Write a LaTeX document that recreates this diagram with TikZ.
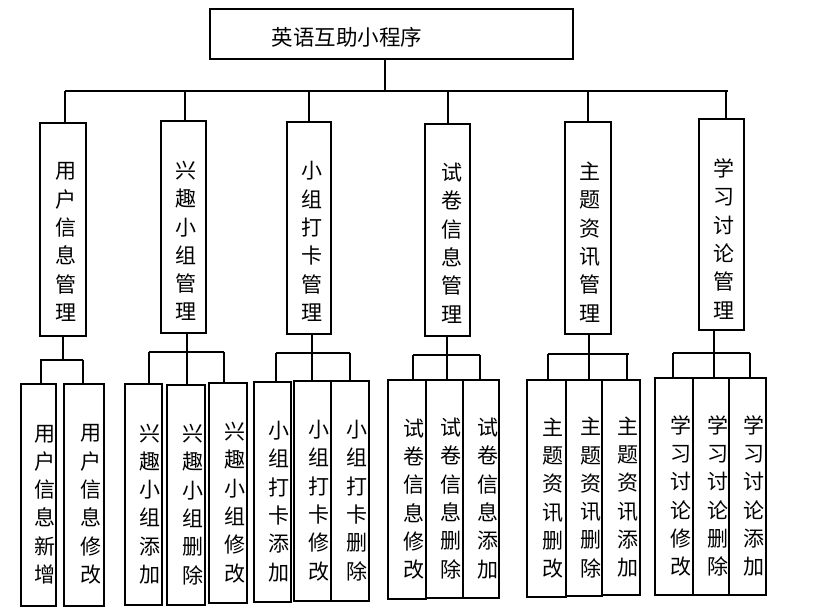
\documentclass[tikz,border=0pt]{standalone}
\usepackage{fontspec}
\newfontfamily\cjk{Noto Sans CJK SC}
\tikzset{
  box/.style={draw=black, line width=1.2pt, rectangle, inner sep=0pt},
  vt/.style={align=center, inner sep=0pt, font=\cjk\fontsize{21}{28.3}\selectfont},
  ln/.style={draw=black, line width=1.2pt},
}
\newcommand\midbox[8]{%
  \node[box, minimum width=#4pt, minimum height=#5pt] (#1) at (#2,#3) {};
  \node[vt] (#1t) at (#6,#7) {#8};
}
\newcommand\leafbox[6]{%
  \node[box, minimum width=#4pt, minimum height=#5pt] (#1) at (#2,#3) {};
  \node[vt, xshift=6.5pt, yshift=-9.5pt] (#1t) at (#1.center) {#6};
}
\begin{document}
\begin{tikzpicture}[x=1pt,y=-1pt]
\useasboundingbox[fill=white] (0,0) rectangle (817,612);

% top
\node[box, minimum width=363pt, minimum height=50pt] (top) at (391.5,34) {};
\node[inner sep=0pt, font=\cjk\fontsize{21.5}{24}\selectfont] (toptext) at (347,37) {英语互助小程序};

% middle boxes
\midbox{m1}{63}{229.5}{46}{213}{65.5}{242}{用\\户\\信\\息\\管\\理}
\midbox{m2}{183.5}{227}{45}{212}{186}{241}{兴\\趣\\小\\组\\管\\理}
\midbox{m3}{309}{228}{44}{212}{311.5}{241.5}{小\\组\\打\\卡\\管\\理}
\midbox{m4}{447.5}{230}{45}{212}{452}{243}{试\\卷\\信\\息\\管\\理}
\midbox{m5}{588}{228}{46}{212}{590}{242}{主\\题\\资\\讯\\管\\理}
\midbox{m6}{721.5}{224.5}{45}{211}{724}{239}{学\\习\\讨\\论\\管\\理}

% leaves
\leafbox{A}{38.5}{495}{35}{222}{用\\户\\信\\息\\新\\增}
\leafbox{B}{84}{495}{40}{222}{用\\户\\信\\息\\修\\改}
\leafbox{C}{143.5}{494.5}{37}{221}{兴\\趣\\小\\组\\添\\加}
\leafbox{D}{186}{495}{38}{220}{兴\\趣\\小\\组\\删\\除}
\leafbox{E}{228}{493}{38}{220}{兴\\趣\\小\\组\\修\\改}
\leafbox{F}{272.5}{492}{37}{220}{小\\组\\打\\卡\\添\\加}
\leafbox{G}{312.5}{491}{37}{220}{小\\组\\打\\卡\\修\\改}
\leafbox{H}{350}{491}{38}{220}{小\\组\\打\\卡\\删\\除}
\leafbox{I}{407}{489.5}{38}{219}{试\\卷\\信\\息\\修\\改}
\leafbox{J}{444.5}{489}{37}{218}{试\\卷\\信\\息\\删\\除}
\leafbox{K}{481}{489}{36}{218}{试\\卷\\信\\息\\添\\加}
\leafbox{L}{546.5}{488.5}{39}{217}{主\\题\\资\\讯\\删\\改}
\leafbox{M}{584}{488}{36}{216}{主\\题\\资\\讯\\删\\除}
\leafbox{N}{621}{487.5}{38}{215}{主\\题\\资\\讯\\添\\加}
\leafbox{O}{674}{486.5}{38}{217}{学\\习\\讨\\论\\修\\改}
\leafbox{P}{711}{486.5}{36}{217}{学\\习\\讨\\论\\删\\除}
\leafbox{Q}{747.5}{486.5}{37}{217}{学\\习\\讨\\论\\添\\加}

% bus
\coordinate (busL) at (65,91);
\coordinate (busR) at (728,91);
\coordinate (t0) at (385,91);
\coordinate (d2) at (185,91);
\coordinate (d3) at (309,91);
\coordinate (d4) at (448,91);
\coordinate (d5) at (588,91);
\coordinate (d6) at (726,91);
\draw[ln] (busL) -- (busR);
\draw[ln] (t0 |- top.south) -- (t0);
\draw[ln] (busL) -- (busL |- m1.north);
\draw[ln] (d2) -- (d2 |- m2.north);
\draw[ln] (d3) -- (d3 |- m3.north);
\draw[ln] (d4) -- (d4 |- m4.north);
\draw[ln] (d5) -- (d5 |- m5.north);
\draw[ln] (d6) -- (d6 |- m6.north);

% group 1
\coordinate (s1) at (63,360);
\coordinate (b1L) at (41,360);
\coordinate (b1R) at (83,360);
\draw[ln] (s1 |- m1.south) -- (s1);
\draw[ln] ([xshift=-1pt]b1L) -- (b1R);
\draw[ln] (b1L) -- (b1L |- A.north);
\draw[ln] (b1R) -- (b1R |- B.north);

% group 2
\coordinate (s2) at (187,352);
\coordinate (b2L) at (149,352);
\coordinate (b2R) at (224,352);
\draw[ln] (s2 |- m2.south) -- (s2 |- D.north);
\draw[ln] (b2L) -- (b2R);
\draw[ln] (b2L) -- (b2L |- C.north);
\draw[ln] (b2R) -- (b2R |- E.north);

% group 3
\coordinate (s3) at (312,353);
\coordinate (b3L) at (276,353);
\coordinate (b3R) at (350,353);
\draw[ln] (s3 |- m3.south) -- (s3 |- G.north);
\draw[ln] (b3L) -- (b3R);
\draw[ln] (b3L) -- (b3L |- F.north);
\draw[ln] (b3R) -- (b3R |- H.north);

% group 4
\coordinate (s4) at (447,355);
\coordinate (b4L) at (413,355);
\coordinate (b4R) at (480,355);
\draw[ln] (s4 |- m4.south) -- (s4 |- J.north);
\draw[ln] (b4L) -- (b4R);
\draw[ln] (b4L) -- (b4L |- I.north);
\draw[ln] (b4R) -- (b4R |- K.north);

% group 5
\coordinate (s5) at (589,354);
\coordinate (b5L) at (548,354);
\coordinate (b5R) at (629,354);
\coordinate (b5D) at (627,354);
\draw[ln] (s5 |- m5.south) -- (s5 |- M.north);
\draw[ln] (b5L) -- (b5R);
\draw[ln] (b5L) -- (b5L |- L.north);
\draw[ln] (b5D) -- (b5D |- N.north);

% group 6
\coordinate (s6) at (714,353);
\coordinate (b6L) at (673,353);
\coordinate (b6R) at (750,353);
\draw[ln] (s6 |- m6.south) -- (s6 |- P.north);
\draw[ln] (b6L) -- (b6R);
\draw[ln] (b6L) -- (b6L |- O.north);
\draw[ln] (b6R) -- (b6R |- Q.north);
\end{tikzpicture}
\end{document}
